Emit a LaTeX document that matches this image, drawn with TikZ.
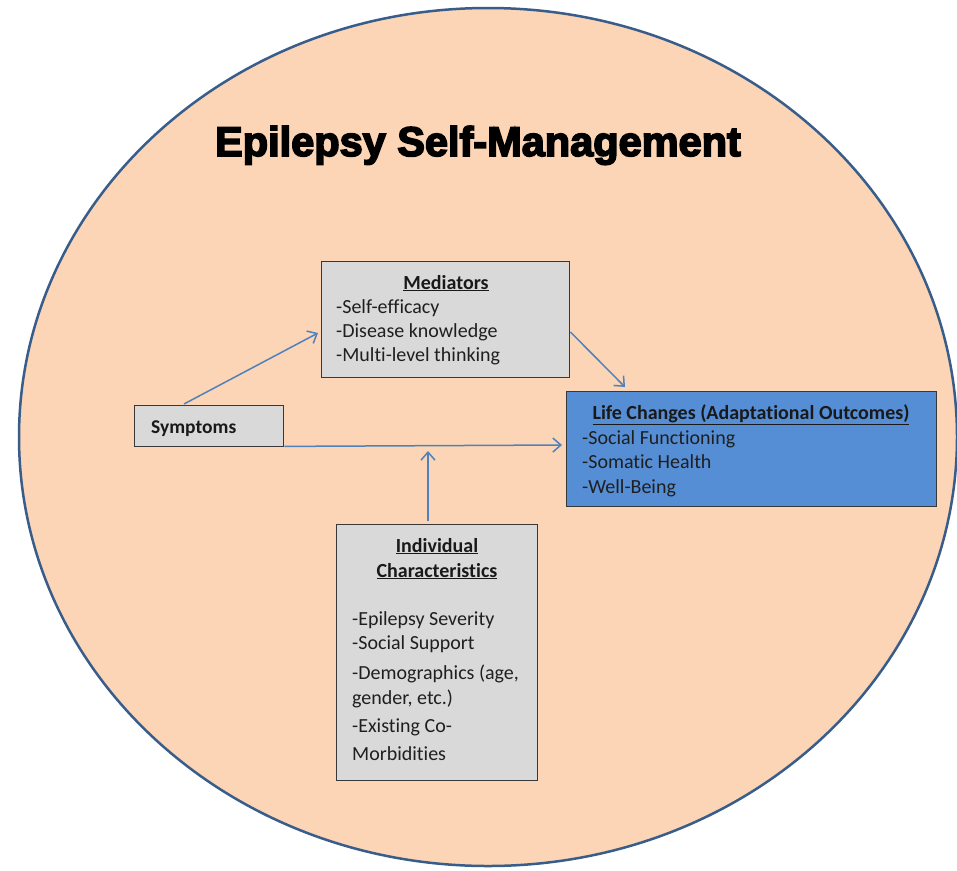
\documentclass[tikz,border=0pt]{standalone}
\usepackage{fontspec}
\setmainfont{Carlito}[Ligatures=NoCommon]
\newfontfamily\titlefont{Liberation Sans Bold}[FakeBold=4]
\usetikzlibrary{calc,arrows.meta}
\definecolor{peach}{RGB}{251,213,181}
\definecolor{ellblue}{RGB}{56,93,138}
\definecolor{boxgray}{RGB}{217,217,217}
\definecolor{boxblue}{RGB}{85,142,213}
\definecolor{arrowblue}{RGB}{79,129,189}
\begin{document}
\begin{tikzpicture}[x=1pt,y=-1pt,
  box/.style={draw=black!78, line width=1.4pt, fill=boxgray, anchor=north west, inner sep=0pt},
  arr/.style={draw=arrowblue, line width=1.5pt, -{Straight Barb[length=8pt,width=14pt,line width=1.5pt]}},
  txt/.style={anchor=base west, inner sep=0pt, text=black!88, font=\fontsize{20}{24}\selectfont},
  hd/.style={anchor=base, inner sep=0pt, text=black!90, font=\fontsize{20}{24}\selectfont\bfseries}]
\useasboundingbox (0,0) rectangle (957,870);
\fill[white] (0,0) rectangle (957,870);
\path[draw=ellblue, line width=2.5pt, fill=peach] (488,437) ellipse [x radius=469pt, y radius=429pt];
\node[anchor=base, inner sep=0pt, font=\titlefont\fontsize{41.5}{46}\selectfont] (title) at (478,156) {Epilepsy Self-Management};
% boxes
\node[box, minimum width=248pt, minimum height=116pt] (med) at (321,261) {};
\node[box, minimum width=149pt, minimum height=41pt] (sym) at (134,405) {};
\node[box, fill=boxblue, minimum width=370pt, minimum height=115pt] (life) at (566,391) {};
\node[box, minimum width=201pt, minimum height=256pt] (ind) at (336,524) {};
% mediators text
\node[hd] (medh) at (446,289) {\underline{Mediators}};
\node[txt] (m1) at (336,313) {-Self-efficacy};
\node[txt] (m2) at (336,337) {-Disease knowledge};
\node[txt] (m3) at (336,361) {-Multi-level thinking};
% symptoms
\node[hd, anchor=base west, font=\fontsize{19.5}{22}\selectfont\bfseries] (symt) at (151,433) {Symptoms};
% life changes
\node[hd] (lifeh) at (751,419) {\underline{Life Changes (Adaptational Outcomes)}};
\node[txt] (l1) at (582,444) {-Social Functioning};
\node[txt] (l2) at (582,468) {-Somatic Health};
\node[txt] (l3) at (582,493) {-Well-Being};
% individual characteristics
\node[hd] (indh1) at (437,552) {\underline{Individual}};
\node[hd] (indh2) at (437,577) {\underline{Characteristics}};
\node[txt] (i1) at (352,625) {-Epilepsy Severity};
\node[txt] (i2) at (352,649) {-Social Support};
\node[txt] (i3) at (352,679) {-Demographics (age,};
\node[txt] (i4) at (352,704) {gender, etc.)};
\node[txt] (i5) at (352,732) {-Existing Co-};
\node[txt] (i6) at (352,760) {Morbidities};
% connectors
\draw[arr] ($(sym.north west)+(50,-1)$) -- ($(med.north west)+(-3,72)$);
\draw[arr] ($(med.north east)+(0,71)$) -- ($(life.north west)+(59,-4)$);
\draw[arr] ($(sym.south east)+(0,-1)$) -- ($(life.north west)+(-4,54)$);
\draw[arr] ($(ind.north west)+(92,-3)$) -- ($(ind.north west)+(92,-73)$);
\end{tikzpicture}
\end{document}
